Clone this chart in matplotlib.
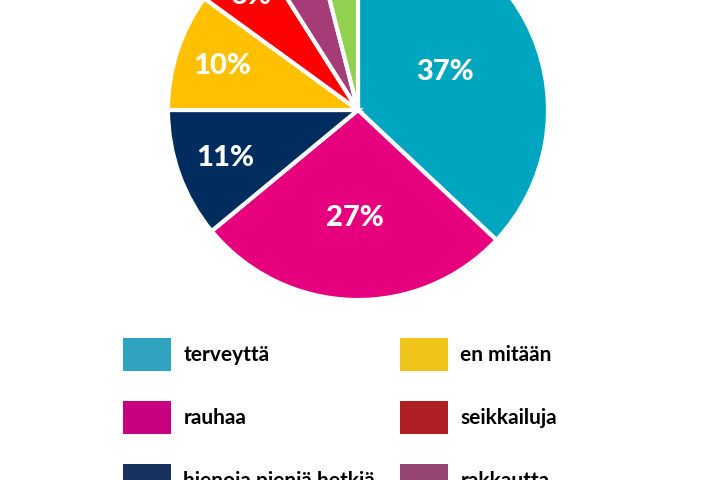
import matplotlib
matplotlib.use("Agg")
import matplotlib.pyplot as plt
from matplotlib.patches import Patch
import numpy as np

labels = ["terveyttä", "rauhaa", "hienoja pieniä hetkiä", "en mitään",
          "seikkailuja", "rakkautta", "muuta"]
shares = [37, 27, 11, 10, 6, 5, 4]
pie_colors = ["#00A5C0", "#E6007E", "#002D5E", "#FFC000", "#FF0000", "#A53C78", "#92D050"]
legend_colors = ["#2FA3BF", "#C6007E", "#17325E", "#F0C419", "#B01E23", "#964573", "#92D050"]
label_radius = [0.5, 0.57, 0.74, 0.75, 0.82, 0.82, 0.82]

plt.rcParams["font.family"] = ["Lato", "DejaVu Sans"]

fig = plt.figure(figsize=(7.2, 4.8), dpi=100)
ax = fig.add_axes([0, 0, 1, 1])

cx, cy, r = 358, 370, 190
wedges, texts, pcts = ax.pie(
    shares, colors=pie_colors, startangle=90, counterclock=False,
    center=(cx, cy), radius=r, autopct="%d%%",
    wedgeprops=dict(edgecolor="white", linewidth=3),
    textprops=dict(color="white", fontsize=21, fontweight="black"),
    frame=True,
)
ax.set_xlim(0, 720)
ax.set_ylim(0, 480)
ax.set_aspect("equal")
ax.axis("off")

for w, t, k in zip(wedges, pcts, label_radius):
    mid = np.deg2rad((w.theta1 + w.theta2) / 2)
    t.set_position((cx + k * r * np.cos(mid), cy + k * r * np.sin(mid)))

# two legend columns placed separately so they line up with the reference
columns = [([0, 1, 2, 6], 123), ([3, 4, 5], 400)]
for idx, x_px in columns:
    handles = [Patch(facecolor=legend_colors[i], edgecolor="none") for i in idx]
    fig.legend(handles, [labels[i] for i in idx], ncol=1,
               loc="upper left", bbox_to_anchor=(x_px / 720, 1 - 338 / 480),
               frameon=False, prop=dict(weight="bold", size=15),
               handlelength=2.3, handleheight=2.05, handletextpad=0.6,
               labelspacing=1.45, borderpad=0, borderaxespad=0)

fig.savefig("out.png", dpi=100)
